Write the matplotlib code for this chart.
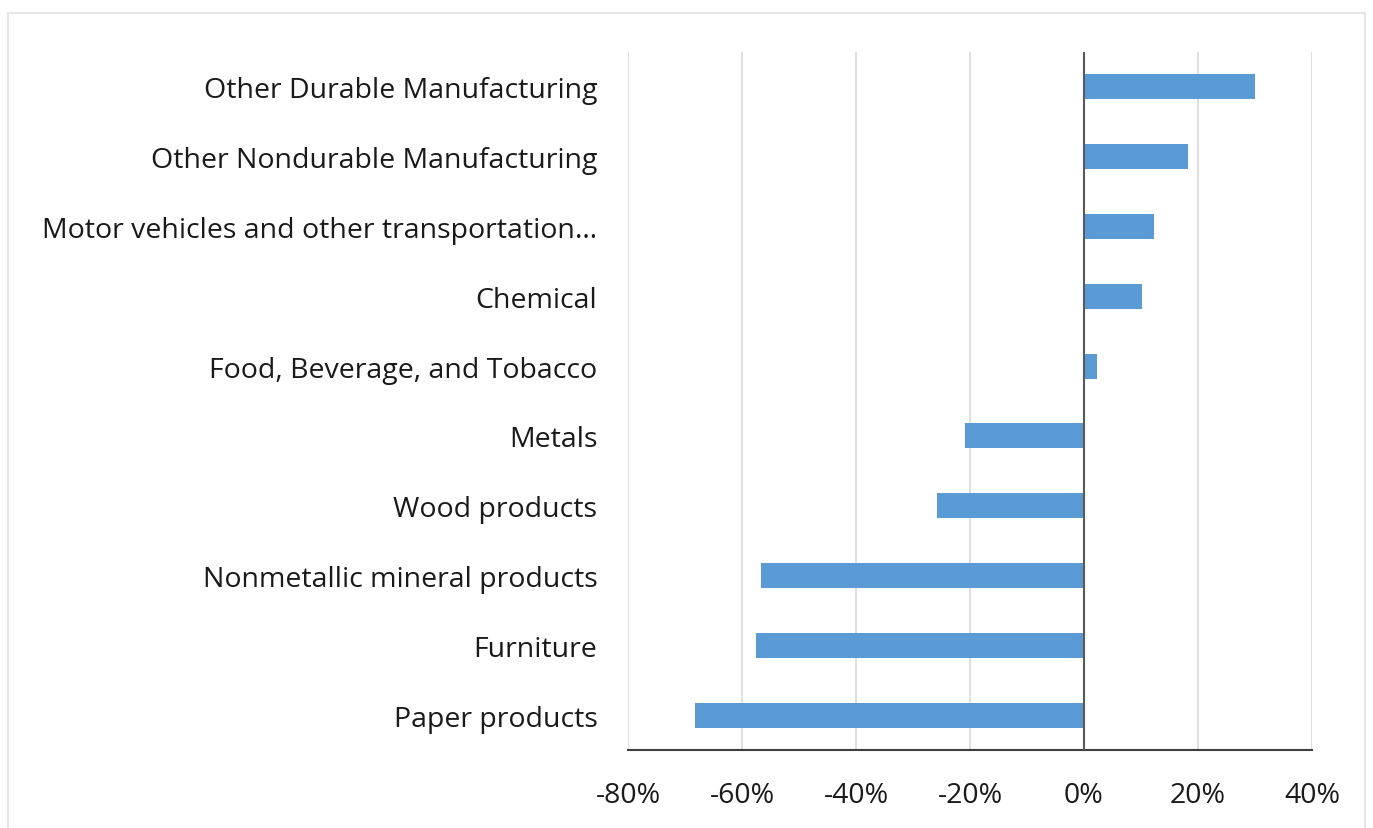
import matplotlib.pyplot as plt
from matplotlib.patches import Rectangle
from matplotlib.ticker import FuncFormatter

# categories from bottom to top
categories = [
    "Paper products",
    "Furniture",
    "Nonmetallic mineral products",
    "Wood products",
    "Metals",
    "Food, Beverage, and Tobacco",
    "Chemical",
    "Motor vehicles and other transportation\u2026",
    "Other Nondurable Manufacturing",
    "Other Durable Manufacturing",
]
changes = [-68.2, -57.6, -56.6, -25.8, -20.9, 2.3, 10.2, 12.3, 18.3, 30.0]
xticks = [-80, -60, -40, -20, 0, 20, 40]

plt.rcParams['font.family'] = ['Open Sans', 'DejaVu Sans']

fig = plt.figure(figsize=(13.73, 8.29), dpi=100)
ax = fig.add_axes([628 / 1373, 1 - 751 / 829, (1312 - 628) / 1373, (751 - 53) / 829])

ypos = list(range(len(categories)))
ax.barh(ypos, changes, height=0.36, color='#5B9BD5', zorder=3)

ax.set_xlim(-80, 40)
ax.set_ylim(-0.5, len(categories) - 0.5)
ax.set_xticks(xticks)
ax.xaxis.set_major_formatter(FuncFormatter(lambda v, p: f"{v:.0f}%"))
ax.set_yticks(ypos)
ax.set_yticklabels(categories)

ax.grid(axis='x', color='#d9d9d9', linewidth=1.2, zorder=0)
ax.axvline(0, color='#595959', linewidth=1.5, zorder=4)

for s in ['top', 'right', 'left']:
    ax.spines[s].set_visible(False)
ax.spines['bottom'].set_color('#404040')
ax.spines['bottom'].set_linewidth(1.5)

ax.tick_params(axis='y', length=0, pad=22, labelsize=20.5, labelcolor='#1a1a1a')
ax.tick_params(axis='x', length=0, pad=22, labelsize=20.5, labelcolor='#1a1a1a')

# light frame around the chart area
fig.patches.append(Rectangle((8 / 1373, -0.01), (1365 - 8) / 1373, 1 - 14 / 829 + 0.01,
                             transform=fig.transFigure, fill=False,
                             edgecolor='#e6e6e6', linewidth=1.5))

fig.savefig('out.png', dpi=100)
